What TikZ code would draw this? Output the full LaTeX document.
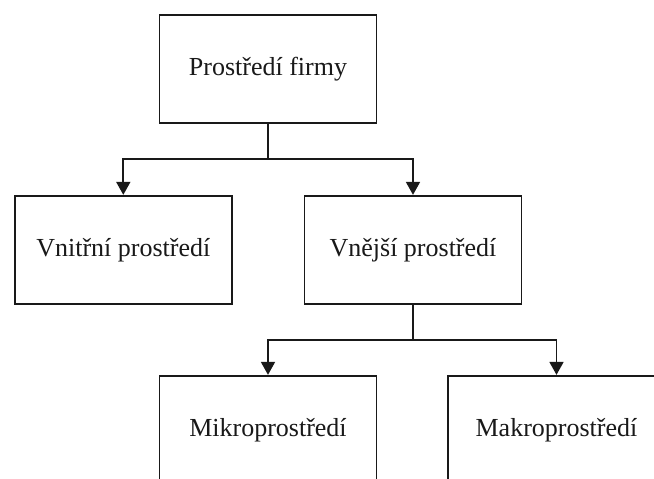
\documentclass[tikz,border=0pt]{standalone}
\usepackage{fontspec}
\setmainfont{Liberation Serif}
\usetikzlibrary{arrows.meta}
\begin{document}
\begin{tikzpicture}[x=1pt,y=-1pt,
  box/.style={draw=black!90, line width=1.8pt, minimum width=217pt, minimum height=108.5pt, inner sep=0pt, font=\fontsize{26}{31}\selectfont, text=black!90},
  conn/.style={draw=black!90, line width=1.8pt},
  arr/.style={conn, -{Triangle[length=13pt,width=14pt]}}]
\path[use as bounding box, clip] (0,0) rectangle (654,479);
\fill[white] (0,0) rectangle (654,479);
\node[box] (top) at (268,69) {Prostředí firmy};
\node[box] (vnitr) at (123.3,250) {Vnitřní prostředí};
\node[box] (vnej) at (413,250) {Vnější prostředí};
\node[box] (mikro) at (268,430) {Mikroprostředí};
\node[box] (makro) at (556.5,430) {Makroprostředí};
\coordinate (j1) at (268,159);
\coordinate (j2) at (413,340);
\draw[conn] (top.south) -- (j1);
\draw[arr] (j1) -| (vnitr.north);
\draw[arr] (j1) -| (vnej.north);
\draw[conn] (vnej.south) -- (j2);
\draw[arr] (j2) -| (mikro.north);
\draw[arr] (j2) -| (makro.north);
\end{tikzpicture}
\end{document}
